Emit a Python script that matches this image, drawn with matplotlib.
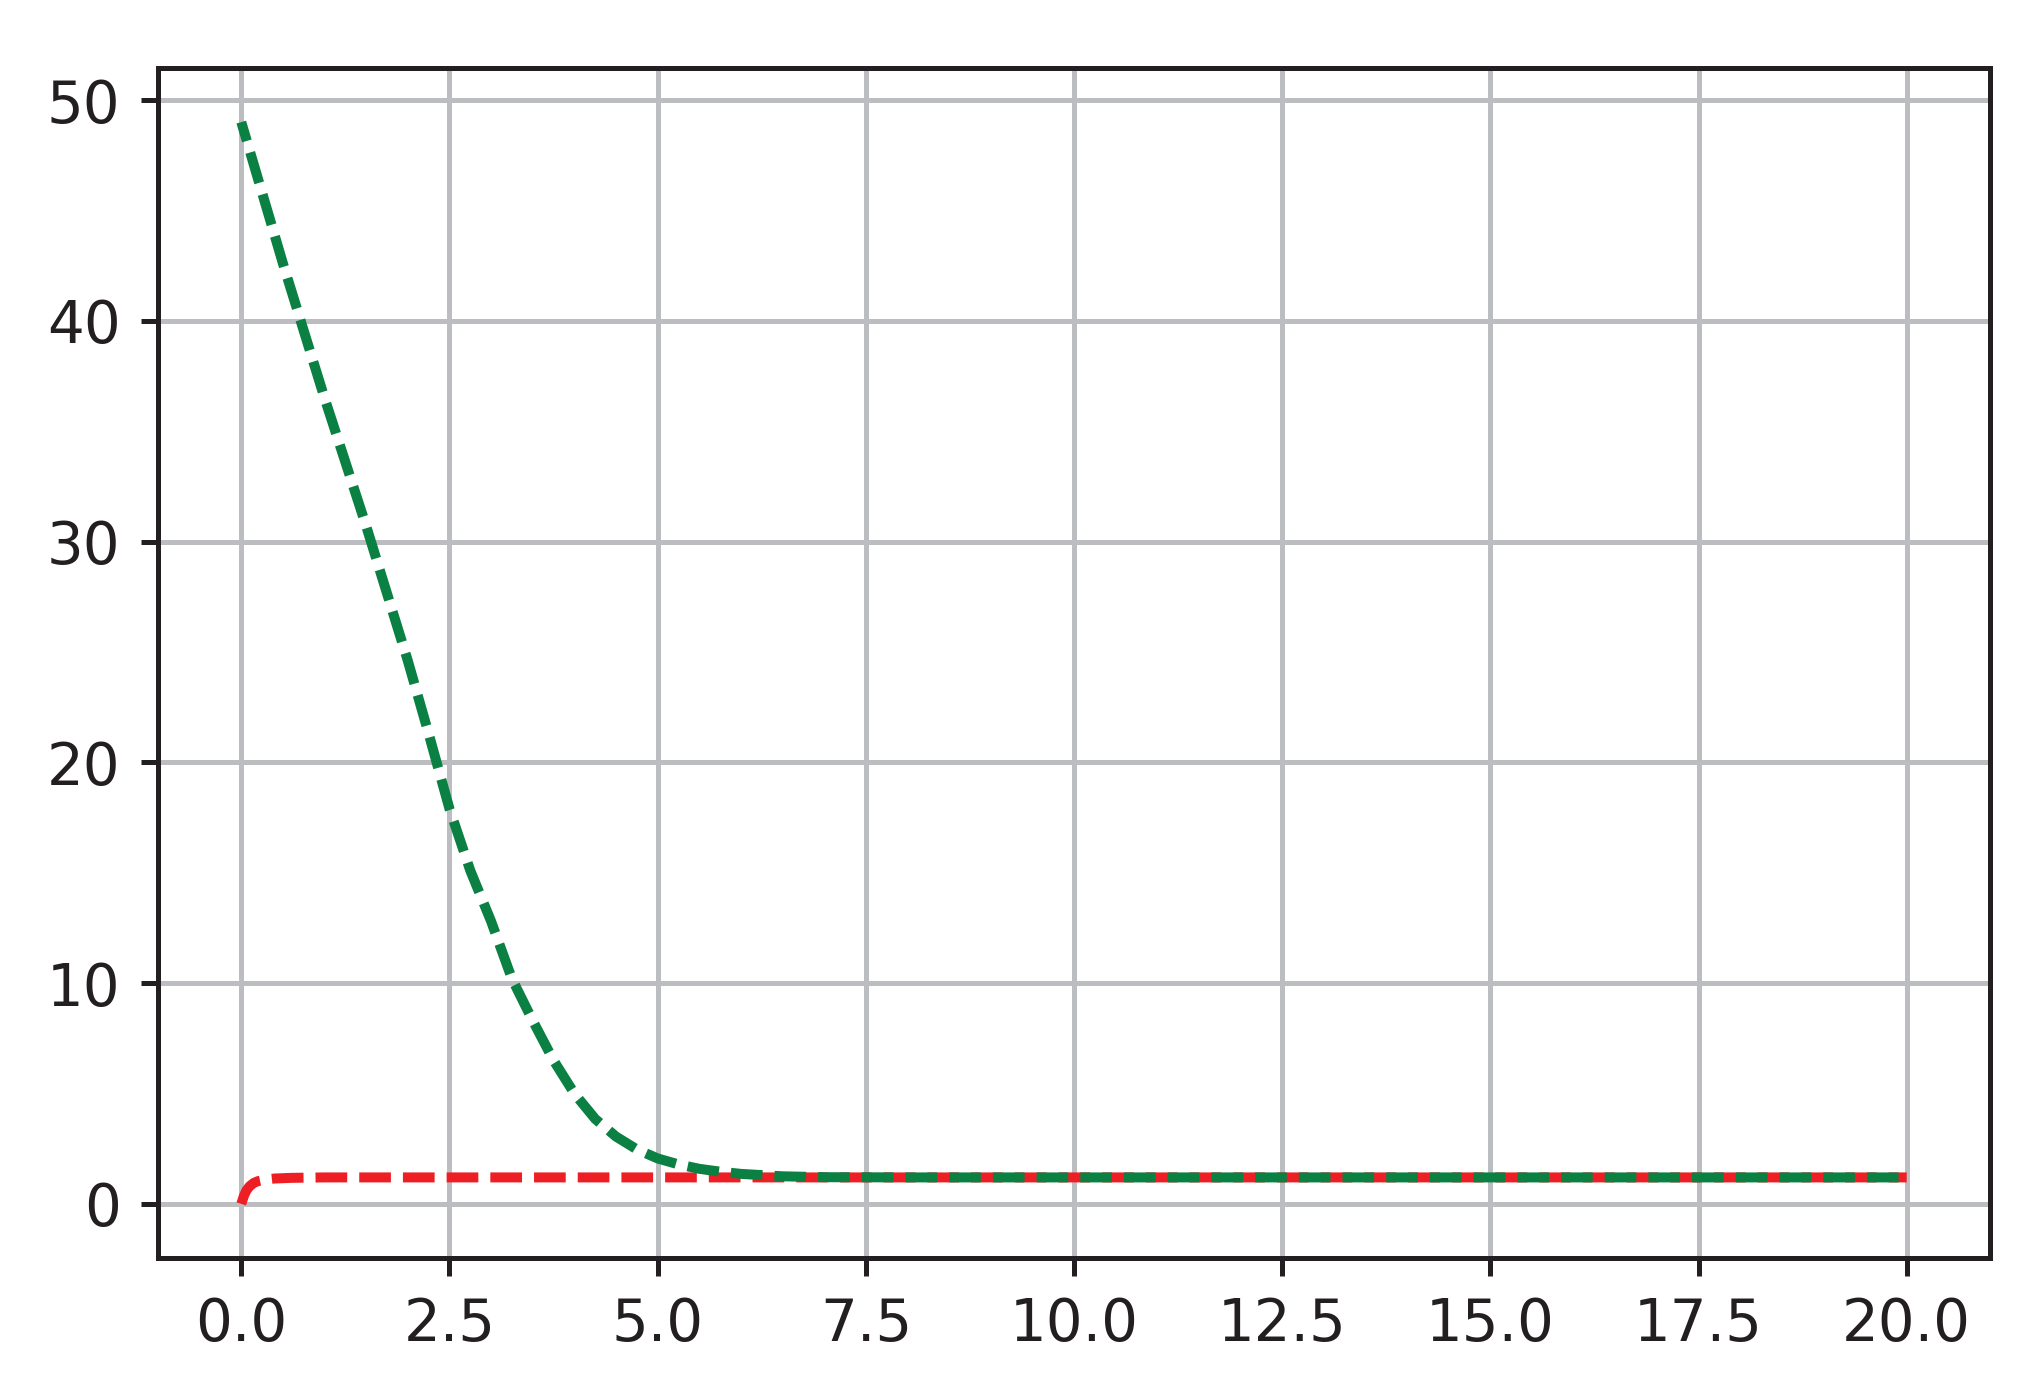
import numpy as np
import matplotlib.pyplot as plt

# ================== DATA ==================

# red curve: fast rise to the steady value
red_t = [0.0, 0.03, 0.06, 0.1, 0.15, 0.2, 0.3, 0.4, 0.6, 1.0, 2.0, 5.0, 10.0, 20.0]
red_y = [0.0, 0.35, 0.6, 0.8, 0.95, 1.03, 1.11, 1.15, 1.18, 1.2, 1.2, 1.2, 1.2, 1.2]

# green curve: slow decay from 49 down to the same steady value
green_t = [0.0, 0.5, 1.0, 1.5, 2.0, 2.25, 2.5, 2.75, 3.0, 3.25, 3.5, 3.75,
           4.0, 4.25, 4.5, 4.75, 5.0, 5.25, 5.5, 5.75, 6.0, 6.5, 7.0, 8.0,
           10.0, 15.0, 20.0]
green_y = [49.0, 42.6, 36.5, 30.7, 24.6, 21.3, 17.9, 15.1, 12.8, 10.2, 8.3, 6.5,
           5.0, 3.85, 3.05, 2.47, 2.06, 1.79, 1.59, 1.46, 1.36, 1.25, 1.21, 1.2,
           1.2, 1.2, 1.2]

# ================== STYLE ==================

dark = "#231f20"
plt.rcParams["font.family"] = ["DejaVu Sans"]
plt.rcParams["text.color"] = dark
plt.rcParams["xtick.color"] = dark
plt.rcParams["ytick.color"] = dark

LW = 2.4
ON, OFF = 3.17, 1.2  # dash pattern, in line widths

# ================== PLOT ==================

fig = plt.figure(figsize=(2033 / 300, 1393 / 300), dpi=300)
ax = fig.add_axes([158 / 2033, 1 - 1258 / 1393, (1990 - 158) / 2033, (1258 - 68) / 1393])

red_line, = ax.plot(red_t, red_y, color="#ed1f24", lw=LW, linestyle=(0, (ON, OFF)))
green_line, = ax.plot(green_t, green_y, color="#0b8043", lw=LW, linestyle=(0, (ON, OFF)))

ax.set_axisbelow(True)
ax.grid(True, color="#bcbdc0", linewidth=1.2)

for side in ax.spines.values():
    side.set_color(dark)
    side.set_linewidth(1.2)

ax.tick_params(axis="both", labelsize=13.9, length=4.2, width=1.2, pad=4.8, colors=dark)

fig.canvas.draw()


# shift the green dashes so that red shows through its gaps on the flat tail
def arc_length_pt(t, y):
    pts = ax.transData.transform(np.column_stack([t, y]))
    seg = np.hypot(*np.diff(pts, axis=0).T)
    return np.concatenate([[0], np.cumsum(seg)]) * 72 / fig.dpi


on_pt, off_pt = ON * LW, OFF * LW
period = on_pt + off_pt
Lr = arc_length_pt(red_t, red_y)[red_t.index(10.0)]
Lg = arc_length_pt(green_t, green_y)[green_t.index(10.0)]
dr = (on_pt / 2 - Lr) % period
green_off = (on_pt + off_pt / 2 - Lg - dr) % period
green_line.set_linestyle((green_off / LW, (ON, OFF)))

fig.savefig("out.png", dpi=300)
